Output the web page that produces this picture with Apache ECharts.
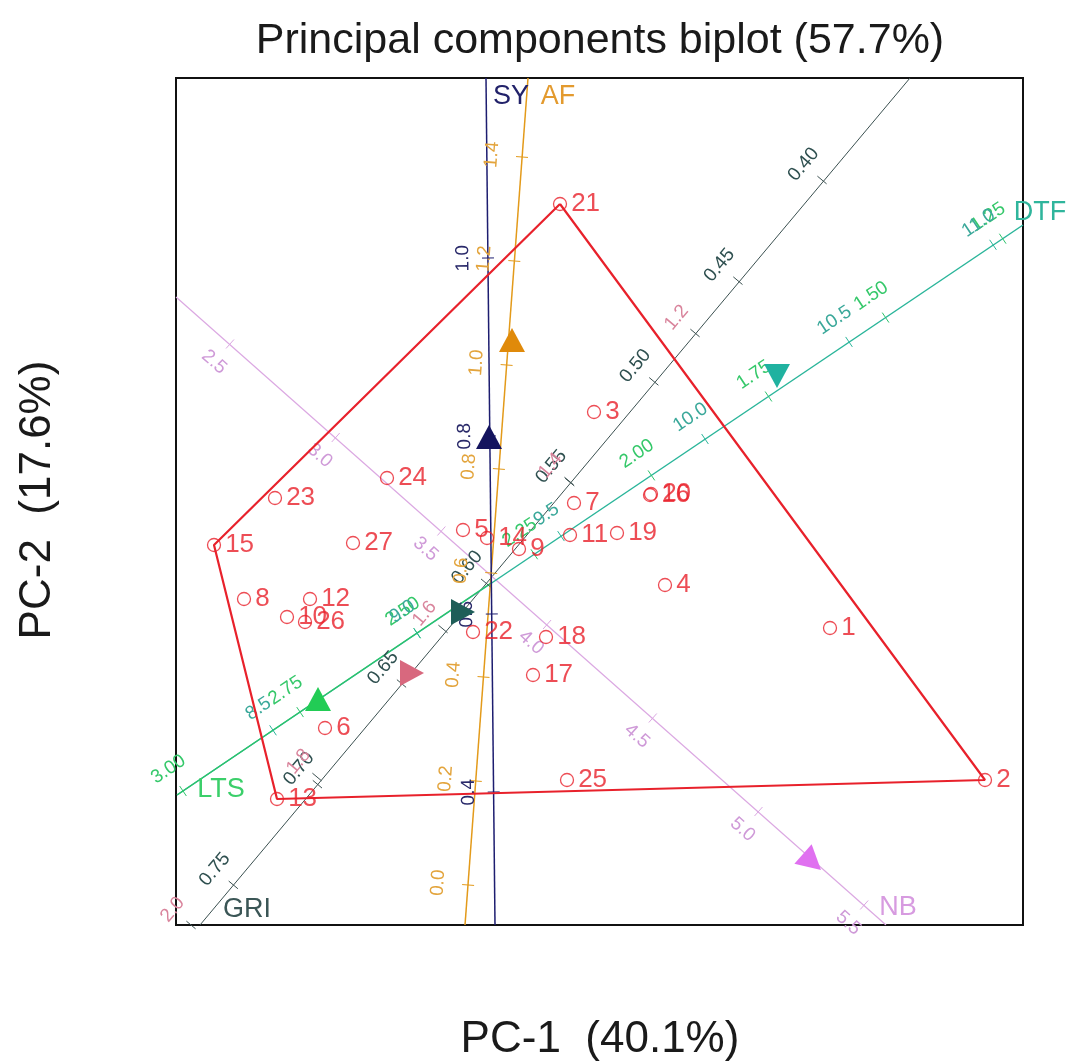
<!DOCTYPE html>
<html><head><meta charset="utf-8">
<script src="https://cdn.jsdelivr.net/npm/echarts/dist/echarts.min.js"></script>
<style>html,body{margin:0;padding:0;background:#fff}#c{width:1069px;height:1064px}</style>
</head><body><div id="c"></div><script>
// ---------------- data (PC units) ----------------
const genotypes = ['1','2','3','4','5','6','7','8','9','10','11','12','13','14','15','16','17','18','19','20','21','22','23','24','25','26','27'];
const pc1 = [3.39,4.94,1.03,1.74,-0.28,-1.66,0.83,-2.47,0.28,-2.04,0.79,-1.81,-2.14,-0.04,-2.77,1.59,0.42,0.55,1.26,1.60,0.69,-0.18,-2.16,-1.04,0.76,-1.86,-1.38];
const pc2 = [-0.53,-2.05,1.63,-0.10,0.45,-1.53,0.72,-0.24,0.26,-0.42,0.40,-0.24,-2.24,0.37,0.30,0.80,-1.00,-0.62,0.42,0.81,3.71,-0.57,0.77,0.97,-2.05,-0.47,0.32];
const hullOrder = ['21','2','13','15','21'];

// biplot variable axes: end points, tick labels, calibration [first tick, step per tick], arrow, name position
const varNames = ['SY','AF','GRI','','NB','LTS','DTF'];
const syAxis = [[0.04,-3.50],[-0.05,4.97]];
const afAxis = [[-0.26,-3.50],[0.37,4.97]];
const griAxis = [[-2.91,-3.50],[4.19,4.97]];
const v4Axis = [[-2.91,-3.50],[4.19,4.97]];
const nbAxis = [[-3.15,2.78],[3.95,-3.50]];
const ltsAxis = [[-3.14,-2.20],[0.00,-0.08]];
const dtfAxis = [[-3.14,-2.20],[5.32,3.50]];

const syTickLabels = ['1.0','0.8','0.6','0.4'];
const afTickLabels = ['1.4','1.2','1.0','0.8','0.6','0.4','0.2','0.0'];
const griTickLabels = ['0.40','0.45','0.50','0.55','0.60','0.65','0.70','0.75'];
const v4TickLabels = ['1.2','1.4','1.6','1.8','2.0'];
const nbTickLabels = ['2.5','3.0','3.5','4.0','4.5','5.0','5.5'];
const ltsTickLabels = ['3.00','2.75','2.50','2.25','2.00','1.75','1.50','1.25'];
const dtfTickLabels = ['8.5','9.0','9.5','10.0','10.5','11.0'];

const syCal = [[-0.03,3.17],[0.019,-1.78]];
const afCal = [[0.31,4.18],[-0.077,-1.04]];
const griCal = [[3.31,3.95],[-0.841,-1.007]];
const v4Cal = [[2.04,2.42],[-1.26,-1.48]];
const nbCal = [[-2.61,2.31],[1.057,-0.935]];
const ltsCal = [[-3.08,-2.16],[1.171,0.789]];
const dtfCal = [[-2.18,-1.553],[1.44,0.971]];

const syArrow = [-0.02,1.38];
const afArrow = [0.21,2.35];
const griArrow = [-0.28,-0.37];
const v4Arrow = [-0.79,-0.98];
const nbArrow = [3.21,-2.87];
const ltsArrow = [-1.73,-1.24];
const dtfArrow = [2.86,1.99];

const syNamePos = [0.20,4.78];
const afNamePos = [0.67,4.78];
const griNamePos = [-2.44,-3.35];
const nbNamePos = [4.07,-3.33];
const ltsNamePos = [-2.70,-2.15];
const dtfNamePos = [5.49,3.62];

// ---------------- styles ----------------
const FONT = '"Liberation Sans", Arial, sans-serif';
const RED = '#e8212b';
const st = {
  SY:  {line:'#1d1d70', lw:1.5, tick:'#2a2a6a', name:'#22226a', arrow:'#14145e', rot:0, side:1, off:25},
  AF:  {line:'#e39a1a', lw:1.5, tick:'#e3a43c', name:'#e39a2e', arrow:'#e08a0a', rot:0, side:1, off:30},
  GRI: {line:'#3b5050', lw:1, tick:'#2f5050', name:'#3b5656', arrow:'#1e5e58', rot:-90, side:1, off:24},
  V4:  {line:'#3b5050', lw:1, tick:'#d9849c', name:'#d06a84', arrow:'#d8687e', rot:-90, side:1, off:24},
  NB:  {line:'#dba8e2', lw:1.2, tick:'#cf9ad8', name:'#d79be0', arrow:'#e070f0', rot:-131.5, side:-1, off:24},
  LTS: {line:'#2cc36b', lw:1.5, tick:'#35c86a', name:'#3bcf6a', arrow:'#22cc55', rot:0, side:1, off:26},
  DTF: {line:'#2ab59a', lw:1.5, tick:'#3aa89a', name:'#2fb59c', arrow:'#20b2a0', rot:180, side:1, off:26}
};

function axisLine(axis, s, z) {
  return {type:'line', data:axis, symbol:'none', silent:true, z:z||2, lineStyle:{color:s.line, width:s.lw}, animation:false};
}
function tickSeries(axis, cal, labels, s) {
  const data = labels.map((l,i)=>[cal[0][0]+i*cal[1][0], cal[0][1]+i*cal[1][1]]);
  return {type:'custom', coordinateSystem:'cartesian2d', data, silent:true, z:4, clip:false, animation:false,
    encode:{x:0,y:1},
    renderItem(params, api){
      const p = api.coord([api.value(0), api.value(1)]);
      const a = api.coord(axis[0]), b = api.coord(axis[1]);
      let ux=b[0]-a[0], uy=b[1]-a[1]; const L=Math.hypot(ux,uy); ux/=L; uy/=L;
      const nx = s.side*uy, ny = -s.side*ux;
      const h = 6;
      return {type:'group', children:[
        {type:'line', shape:{x1:p[0]-uy*h, y1:p[1]+ux*h, x2:p[0]+uy*h, y2:p[1]-ux*h}, style:{stroke:s.line, lineWidth:1}},
        {type:'text', x:p[0]+nx*s.off, y:p[1]+ny*s.off, rotation:Math.atan2(-uy,ux),
          style:{text:labels[params.dataIndex], fill:s.tick, font:'19px '+FONT, align:'center', verticalAlign:'middle', textAlign:'center', textVerticalAlign:'middle'}}
      ]};
    }};
}
function arrowSeries(pos, s) {
  return {type:'scatter', data:[pos], symbol:'triangle', symbolSize:[26,24], symbolRotate:s.rot, silent:true, z:6, animation:false,
    itemStyle:{color:s.arrow, opacity:1}};
}
function nameSeries(pos, name, s) {
  return {type:'custom', coordinateSystem:'cartesian2d', data:[pos], silent:true, z:7, clip:false, animation:false,
    encode:{x:0,y:1},
    renderItem(params, api){
      const p = api.coord([api.value(0), api.value(1)]);
      return {type:'text', x:p[0], y:p[1],
        style:{text:name, fill:s.name, font:'27px '+FONT, align:'center', verticalAlign:'middle', textAlign:'center', textVerticalAlign:'middle'}};
    }};
}

const series = [];
// axis lines
series.push(axisLine(griAxis, st.GRI));
series.push(axisLine(nbAxis, st.NB));
series.push(axisLine(dtfAxis, st.DTF));
series.push(axisLine(ltsAxis, st.LTS, 3));
series.push(axisLine(afAxis, st.AF));
series.push(axisLine(syAxis, st.SY, 3));
// ticks
series.push(tickSeries(griAxis, griCal, griTickLabels, st.GRI));
series.push(tickSeries(v4Axis, v4Cal, v4TickLabels, st.V4));
series.push(tickSeries(nbAxis, nbCal, nbTickLabels, st.NB));
series.push(tickSeries(dtfAxis, ltsCal, ltsTickLabels, st.LTS));
series.push(tickSeries(dtfAxis, dtfCal, dtfTickLabels, st.DTF));
series.push(tickSeries(afAxis, afCal, afTickLabels, st.AF));
series.push(tickSeries(syAxis, syCal, syTickLabels, st.SY));
// hull
const idx = n => genotypes.indexOf(n);
series.push({type:'line', data:hullOrder.map(n=>[pc1[idx(n)], pc2[idx(n)]]), symbol:'none', silent:true, z:5, animation:false,
  lineStyle:{color:RED, width:2.2}});
// genotypes
series.push({type:'scatter', z:8, animation:false,
  data: genotypes.map((g,i)=>({name:g, value:[pc1[i], pc2[i]]})),
  symbol:'circle', symbolSize:13,
  itemStyle:{color:'rgba(0,0,0,0)', borderColor:RED, borderWidth:1.3},
  label:{show:true, position:'right', distance:4, formatter:'{b}', color:RED, fontSize:26, fontFamily:FONT}});
// arrows
series.push(arrowSeries(griArrow, st.GRI));
series.push(arrowSeries(v4Arrow, st.V4));
series.push(arrowSeries(nbArrow, st.NB));
series.push(arrowSeries(ltsArrow, st.LTS));
series.push(arrowSeries(dtfArrow, st.DTF));
series.push(arrowSeries(afArrow, st.AF));
series.push(arrowSeries(syArrow, st.SY));
// names
series.push(nameSeries(syNamePos, varNames[0], st.SY));
series.push(nameSeries(afNamePos, varNames[1], st.AF));
series.push(nameSeries(griNamePos, varNames[2], st.GRI));
series.push(nameSeries(nbNamePos, varNames[4], st.NB));
series.push(nameSeries(ltsNamePos, varNames[5], st.LTS));
series.push(nameSeries(dtfNamePos, varNames[6], st.DTF));

const chart = echarts.init(document.getElementById('c'), null, {renderer:'canvas'});
chart.setOption({
  animation:false,
  backgroundColor:'#fff',
  grid:{left:176, top:78, width:847, height:847, show:true, borderColor:'#111', borderWidth:2, backgroundColor:'transparent'},
  xAxis:{type:'value', min:-3.15, max:5.32, axisLine:{show:false}, axisTick:{show:false}, axisLabel:{show:false}, splitLine:{show:false}},
  yAxis:{type:'value', min:-3.50, max:4.97, axisLine:{show:false}, axisTick:{show:false}, axisLabel:{show:false}, splitLine:{show:false}},
  graphic:[
    {type:'text', x:600, y:41, style:{text:'Principal components biplot (57.7%)', font:'43px '+FONT, fill:'#1a1a1a', align:'center', verticalAlign:'middle', textAlign:'center', textVerticalAlign:'middle'}},
    {type:'text', x:600, y:1040, style:{text:'PC-1  (40.1%)', font:'44px '+FONT, fill:'#1a1a1a', align:'center', verticalAlign:'middle', textAlign:'center', textVerticalAlign:'middle'}},
    {type:'text', x:38, y:500, rotation:Math.PI/2, style:{text:'PC-2  (17.6%)', font:'44px '+FONT, fill:'#1a1a1a', align:'center', verticalAlign:'middle', textAlign:'center', textVerticalAlign:'middle'}}
  ],
  series
});
</script></body></html>
